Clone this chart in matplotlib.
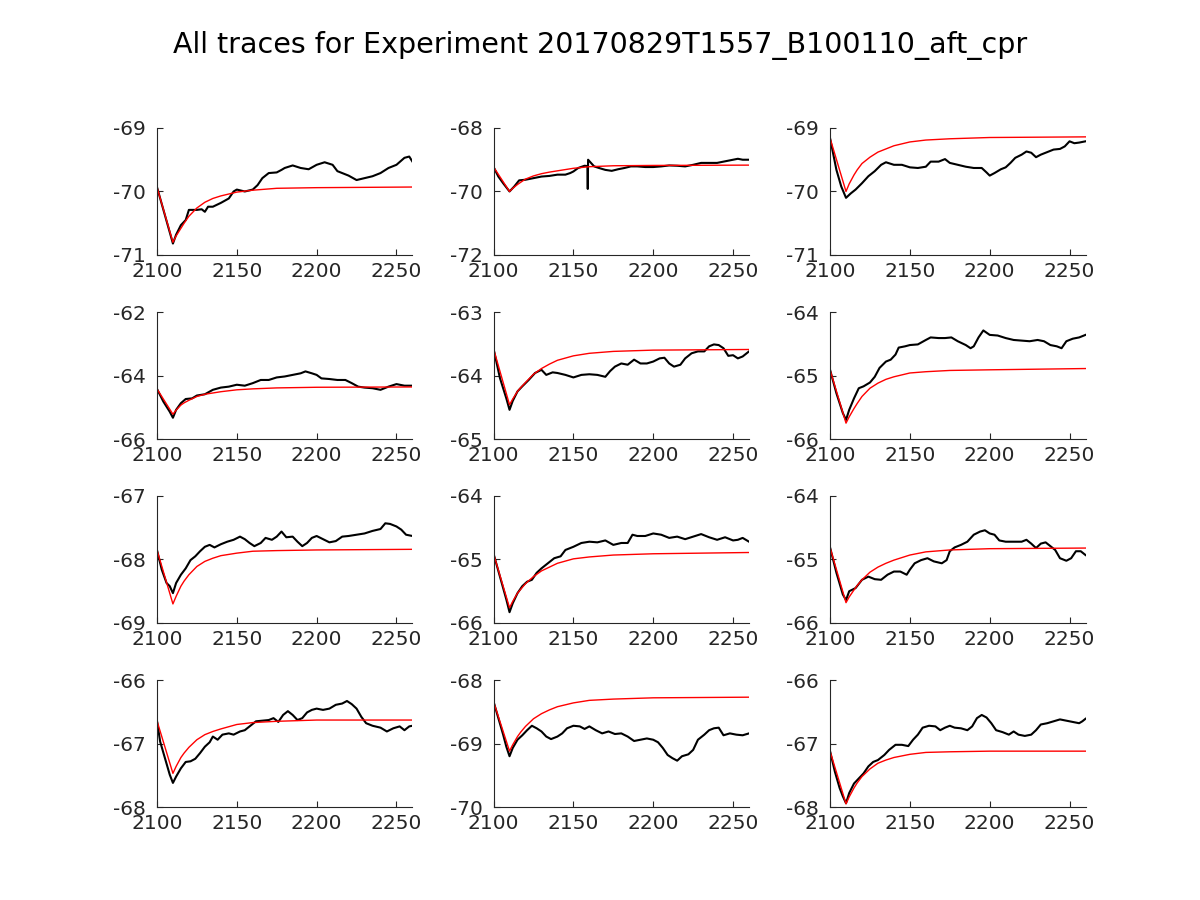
import matplotlib
matplotlib.use("Agg")
import matplotlib.pyplot as plt

TITLE = "All traces for Experiment 20170829T1557_B100110_aft_cpr"
XLIM = (2100, 2260)
XTICKS = [2100, 2150, 2200, 2250]

# y-limits for each panel (row-major)
YLIMS = [(-71, -69), (-72, -68), (-71, -69),
         (-66, -62), (-65, -63), (-66, -64),
         (-69, -67), (-66, -64), (-66, -64),
         (-68, -66), (-70, -68), (-68, -66)]

# common time grid of the fitted (red) curves
RED_T = [2100, 2110, 2112, 2115, 2117, 2120, 2125, 2130, 2135, 2140, 2150, 2160, 2175, 2200, 2260]

red1 = [-69.93, -70.80, -70.70, -70.58, -70.50, -70.39, -70.26, -70.17, -70.11, -70.07, -70.01, -69.98, -69.95, -69.94, -69.93]
red2 = [-69.23, -70.00, -69.90, -69.78, -69.71, -69.61, -69.51, -69.44, -69.39, -69.35, -69.27, -69.22, -69.19, -69.18, -69.17]
red3 = [-69.16, -70.00, -69.88, -69.74, -69.66, -69.56, -69.46, -69.38, -69.33, -69.28, -69.22, -69.19, -69.17, -69.15, -69.14]
red4 = [-64.42, -65.22, -65.09, -64.93, -64.86, -64.78, -64.66, -64.59, -64.55, -64.51, -64.45, -64.42, -64.39, -64.37, -64.36]
red5 = [-63.58, -64.46, -64.37, -64.25, -64.19, -64.11, -63.98, -63.89, -63.82, -63.76, -63.69, -63.65, -63.62, -63.60, -63.59]
red6 = [-64.91, -65.75, -65.65, -65.52, -65.44, -65.33, -65.20, -65.12, -65.06, -65.02, -64.96, -64.94, -64.92, -64.91, -64.89]
red7 = [-67.85, -68.70, -68.58, -68.42, -68.34, -68.24, -68.11, -68.03, -67.98, -67.94, -67.90, -67.87, -67.86, -67.85, -67.84]
red8 = [-64.91, -65.76, -65.66, -65.53, -65.47, -65.38, -65.27, -65.18, -65.12, -65.06, -64.99, -64.96, -64.93, -64.91, -64.89]
red9 = [-64.81, -65.68, -65.59, -65.48, -65.41, -65.32, -65.20, -65.12, -65.06, -65.01, -64.93, -64.88, -64.85, -64.83, -64.82]
red10 = [-66.64, -67.47, -67.36, -67.22, -67.15, -67.06, -66.94, -66.86, -66.81, -66.77, -66.70, -66.67, -66.65, -66.63, -66.63]
red11 = [-68.34, -69.12, -69.02, -68.89, -68.82, -68.73, -68.61, -68.53, -68.47, -68.42, -68.36, -68.32, -68.30, -68.28, -68.27]
red12 = [-67.12, -67.95, -67.84, -67.70, -67.62, -67.52, -67.40, -67.31, -67.26, -67.22, -67.17, -67.14, -67.13, -67.12, -67.12]

# measured traces (black)
t1 = [2100, 2110, 2112, 2115, 2118, 2120, 2125, 2128, 2130, 2132, 2135, 2140, 2145, 2148, 2150, 2155, 2160,
      2163, 2166, 2170, 2175, 2178, 2180, 2185, 2190, 2195, 2200, 2205, 2210, 2213, 2216, 2220, 2225, 2230,
      2235, 2240, 2245, 2250, 2255, 2258, 2260]
v1 = [-69.93, -70.82, -70.68, -70.53, -70.45, -70.29, -70.29, -70.28, -70.32, -70.24, -70.24, -70.18, -70.11,
      -70.00, -69.97, -70.00, -69.97, -69.90, -69.79, -69.71, -69.70, -69.66, -69.63, -69.59, -69.63, -69.65,
      -69.58, -69.54, -69.58, -69.68, -69.71, -69.75, -69.82, -69.79, -69.76, -69.71, -69.63, -69.58, -69.47,
      -69.45, -69.53]

t2 = [2100, 2103, 2106, 2110, 2113, 2116, 2120, 2125, 2130, 2135, 2140, 2145, 2148, 2150, 2153, 2157, 2158.8,
      2159.0, 2159.2, 2161, 2163, 2166, 2170, 2174, 2178, 2182, 2186, 2190, 2195, 2200, 2205, 2210, 2215, 2220,
      2225, 2230, 2235, 2240, 2245, 2250, 2253, 2256, 2260]
v2 = [-69.23, -69.53, -69.74, -70.00, -69.84, -69.65, -69.63, -69.58, -69.53, -69.51, -69.47, -69.47, -69.42,
      -69.37, -69.26, -69.19, -69.20, -69.92, -69.00, -69.10, -69.21, -69.26, -69.32, -69.35, -69.30, -69.26,
      -69.21, -69.21, -69.23, -69.23, -69.21, -69.18, -69.19, -69.21, -69.16, -69.10, -69.10, -69.10, -69.05,
      -69.00, -68.97, -69.00, -69.00]

t3 = [2100, 2104, 2107, 2110, 2113, 2116, 2120, 2124, 2128, 2132, 2135, 2140, 2145, 2150, 2155, 2160, 2163,
      2168, 2172, 2175, 2180, 2185, 2190, 2195, 2198, 2200, 2203, 2207, 2210, 2213, 2216, 2220, 2223, 2226,
      2229, 2232, 2236, 2240, 2244, 2247, 2250, 2253, 2256, 2260]
v3 = [-69.16, -69.66, -69.92, -70.10, -70.03, -69.97, -69.87, -69.76, -69.68, -69.58, -69.54, -69.58, -69.58,
      -69.62, -69.63, -69.61, -69.53, -69.53, -69.49, -69.55, -69.58, -69.61, -69.63, -69.63, -69.70, -69.75,
      -69.71, -69.65, -69.62, -69.55, -69.47, -69.42, -69.37, -69.39, -69.46, -69.42, -69.38, -69.34, -69.33,
      -69.29, -69.21, -69.24, -69.23, -69.21]

t4 = [2100, 2104, 2108, 2110, 2112, 2115, 2118, 2122, 2125, 2130, 2135, 2140, 2145, 2150, 2155, 2160, 2165,
      2170, 2175, 2180, 2185, 2190, 2193, 2197, 2200, 2203, 2208, 2213, 2218, 2222, 2226, 2230, 2235, 2240,
      2245, 2250, 2255, 2260]
v4 = [-64.42, -64.82, -65.14, -65.33, -65.08, -64.87, -64.74, -64.72, -64.63, -64.59, -64.45, -64.38, -64.35,
      -64.29, -64.32, -64.24, -64.14, -64.14, -64.06, -64.03, -63.98, -63.93, -63.87, -63.93, -63.98, -64.09,
      -64.11, -64.14, -64.14, -64.24, -64.35, -64.38, -64.40, -64.45, -64.35, -64.27, -64.32, -64.32]

t5 = [2100, 2104, 2108, 2110, 2112, 2115, 2118, 2122, 2126, 2130, 2133, 2137, 2140, 2145, 2150, 2155, 2160,
      2165, 2170, 2173, 2176, 2180, 2184, 2188, 2192, 2196, 2200, 2204, 2207, 2210, 2213, 2217, 2220, 2224,
      2228, 2232, 2235, 2238, 2241, 2244, 2247, 2250, 2253, 2256, 2260]
v5 = [-63.58, -64.04, -64.36, -64.54, -64.40, -64.25, -64.17, -64.07, -63.96, -63.91, -63.99, -63.95, -63.96,
      -63.99, -64.03, -63.99, -63.98, -63.99, -64.02, -63.93, -63.86, -63.81, -63.83, -63.75, -63.81, -63.81,
      -63.78, -63.73, -63.72, -63.81, -63.86, -63.83, -63.73, -63.65, -63.62, -63.62, -63.54, -63.51, -63.52,
      -63.57, -63.69, -63.68, -63.73, -63.70, -63.62]

t6 = [2100, 2104, 2108, 2110, 2112, 2115, 2118, 2121, 2125, 2128, 2131, 2135, 2138, 2141, 2143, 2147, 2150,
      2155, 2160, 2163, 2168, 2172, 2176, 2180, 2185, 2188, 2190, 2193, 2196, 2200, 2205, 2210, 2215, 2220,
      2225, 2230, 2234, 2238, 2242, 2245, 2248, 2252, 2256, 2260]
v6 = [-64.91, -65.28, -65.59, -65.70, -65.54, -65.36, -65.20, -65.17, -65.11, -65.02, -64.88, -64.78, -64.75,
      -64.67, -64.56, -64.54, -64.52, -64.51, -64.44, -64.40, -64.41, -64.41, -64.40, -64.46, -64.52, -64.57,
      -64.54, -64.40, -64.29, -64.36, -64.37, -64.41, -64.44, -64.45, -64.46, -64.44, -64.46, -64.52, -64.54,
      -64.57, -64.46, -64.42, -64.40, -64.36]

t7 = [2100, 2103, 2106, 2108, 2110, 2112, 2115, 2118, 2121, 2124, 2127, 2130, 2133, 2136, 2140, 2144, 2148,
      2152, 2155, 2158, 2161, 2165, 2168, 2172, 2175, 2178, 2181, 2185, 2188, 2191, 2194, 2197, 2200, 2204,
      2208, 2212, 2216, 2220, 2225, 2230, 2235, 2240, 2243, 2246, 2250, 2253, 2256, 2260]
v7 = [-67.85, -68.16, -68.37, -68.42, -68.53, -68.37, -68.24, -68.14, -68.01, -67.95, -67.87, -67.80, -67.77,
      -67.81, -67.76, -67.72, -67.69, -67.64, -67.68, -67.74, -67.79, -67.74, -67.66, -67.69, -67.64, -67.56,
      -67.65, -67.64, -67.72, -67.79, -67.74, -67.66, -67.63, -67.68, -67.73, -67.71, -67.64, -67.63, -67.61,
      -67.59, -67.55, -67.52, -67.43, -67.44, -67.48, -67.53, -67.61, -67.63]

t8 = [2100, 2104, 2108, 2110, 2112, 2115, 2118, 2121, 2124, 2127, 2130, 2134, 2138, 2142, 2145, 2150, 2155,
      2160, 2165, 2170, 2175, 2180, 2184, 2187, 2190, 2195, 2200, 2205, 2210, 2215, 2220, 2225, 2230, 2235,
      2240, 2245, 2250, 2253, 2256, 2260]
v8 = [-64.91, -65.27, -65.63, -65.83, -65.69, -65.53, -65.42, -65.35, -65.32, -65.21, -65.14, -65.06, -64.98,
      -64.95, -64.85, -64.80, -64.74, -64.72, -64.73, -64.70, -64.77, -64.74, -64.74, -64.61, -64.63, -64.63,
      -64.59, -64.61, -64.66, -64.64, -64.68, -64.64, -64.60, -64.65, -64.69, -64.65, -64.70, -64.69, -64.66,
      -64.72]

t9 = [2100, 2104, 2108, 2110, 2112, 2116, 2120, 2124, 2128, 2132, 2136, 2140, 2144, 2148, 2150, 2153, 2157,
      2161, 2165, 2170, 2173, 2175, 2178, 2182, 2186, 2190, 2194, 2197, 2200, 2203, 2206, 2210, 2215, 2220,
      2223, 2226, 2229, 2232, 2235, 2238, 2241, 2244, 2248, 2251, 2254, 2257, 2260]
v9 = [-64.81, -65.21, -65.55, -65.64, -65.50, -65.45, -65.32, -65.27, -65.31, -65.32, -65.24, -65.19, -65.19,
      -65.24, -65.16, -65.06, -65.01, -64.98, -65.03, -65.06, -65.01, -64.87, -64.81, -64.77, -64.72, -64.61,
      -64.56, -64.54, -64.59, -64.61, -64.70, -64.72, -64.72, -64.72, -64.69, -64.75, -64.82, -64.75, -64.73,
      -64.79, -64.85, -64.98, -65.02, -64.98, -64.87, -64.87, -64.93]

t10 = [2100, 2102, 2105, 2108, 2110, 2112, 2115, 2118, 2121, 2124, 2127, 2130, 2133, 2135, 2138, 2141, 2145,
       2148, 2152, 2155, 2158, 2162, 2166, 2170, 2173, 2176, 2179, 2182, 2185, 2188, 2191, 2194, 2197, 2200,
       2204, 2208, 2212, 2216, 2219, 2222, 2225, 2228, 2231, 2235, 2240, 2244, 2248, 2252, 2255, 2258, 2260]
v10 = [-66.64, -66.97, -67.23, -67.49, -67.62, -67.52, -67.39, -67.29, -67.28, -67.24, -67.15, -67.05, -66.98,
       -66.89, -66.94, -66.86, -66.84, -66.86, -66.81, -66.79, -66.73, -66.65, -66.64, -66.63, -66.60, -66.66,
       -66.55, -66.49, -66.55, -66.63, -66.60, -66.51, -66.47, -66.45, -66.47, -66.45, -66.39, -66.37, -66.33,
       -66.38, -66.45, -66.58, -66.68, -66.72, -66.75, -66.81, -66.76, -66.73, -66.79, -66.73, -66.72]

t11 = [2100, 2103, 2106, 2108, 2110, 2112, 2115, 2118, 2121, 2124, 2127, 2130, 2133, 2136, 2140, 2143, 2146,
       2150, 2154, 2157, 2160, 2164, 2168, 2172, 2176, 2180, 2184, 2188, 2192, 2196, 2200, 2203, 2206, 2209,
       2212, 2215, 2218, 2222, 2225, 2228, 2232, 2235, 2238, 2241, 2244, 2248, 2252, 2256, 2260]
v11 = [-68.34, -68.60, -68.86, -69.05, -69.20, -69.07, -68.94, -68.87, -68.79, -68.72, -68.76, -68.81, -68.89,
       -68.93, -68.89, -68.84, -68.76, -68.72, -68.73, -68.77, -68.73, -68.79, -68.84, -68.81, -68.85, -68.84,
       -68.89, -68.96, -68.94, -68.92, -68.94, -68.98, -69.07, -69.18, -69.23, -69.27, -69.20, -69.17, -69.10,
       -68.94, -68.86, -68.79, -68.76, -68.75, -68.87, -68.84, -68.86, -68.87, -68.84]

t12 = [2100, 2103, 2106, 2108, 2110, 2112, 2115, 2118, 2121, 2124, 2127, 2130, 2134, 2137, 2141, 2145, 2149,
       2152, 2155, 2158, 2162, 2166, 2169, 2172, 2175, 2178, 2182, 2186, 2189, 2192, 2195, 2198, 2201, 2204,
       2208, 2212, 2215, 2218, 2222, 2226, 2229, 2232, 2236, 2240, 2244, 2248, 2252, 2256, 2258, 2260]
v12 = [-67.12, -67.44, -67.70, -67.83, -67.94, -67.78, -67.63, -67.55, -67.47, -67.36, -67.29, -67.26, -67.18,
       -67.10, -67.02, -67.02, -67.04, -66.94, -66.86, -66.75, -66.72, -66.73, -66.79, -66.75, -66.72, -66.75,
       -66.76, -66.79, -66.73, -66.60, -66.55, -66.59, -66.68, -66.79, -66.82, -66.86, -66.81, -66.86, -66.88,
       -66.86, -66.79, -66.70, -66.68, -66.65, -66.62, -66.64, -66.66, -66.68, -66.65, -66.61]

TRACES = [(t1, v1), (t2, v2), (t3, v3), (t4, v4), (t5, v5), (t6, v6),
          (t7, v7), (t8, v8), (t9, v9), (t10, v10), (t11, v11), (t12, v12)]
FITS = [red1, red2, red3, red4, red5, red6, red7, red8, red9, red10, red11, red12]

# layout (figure fractions)
LEFTS = [0.1308, 0.4113, 0.6917]
BOTTOMS = [0.7167, 0.5122, 0.3078, 0.1033]
W, H = 0.2129, 0.1411
AXC = "#262626"

fig = plt.figure(figsize=(12, 9), dpi=100)
fig.patch.set_facecolor("white")
for i in range(12):
    r, c = divmod(i, 3)
    ax = fig.add_axes([LEFTS[c], BOTTOMS[r], W, H])
    t, v = TRACES[i]
    ax.plot(t, v, color="black", lw=1.5)
    ax.plot(RED_T, FITS[i], color="red", lw=1.0)
    ylo, yhi = YLIMS[i]
    ax.set_xlim(*XLIM)
    ax.set_ylim(ylo, yhi)
    ax.set_xticks(XTICKS)
    yt = [ylo, (ylo + yhi) / 2, yhi]
    ax.set_yticks(yt)
    ax.set_yticklabels([f"{int(round(y))}" for y in yt])
    for s in ("top", "right"):
        ax.spines[s].set_visible(False)
    for s in ("left", "bottom"):
        ax.spines[s].set_color(AXC)
        ax.spines[s].set_linewidth(0.8)
    ax.tick_params(direction="in", length=4, width=0.8, colors=AXC, labelsize=14.5)
    ax.tick_params(axis="y", pad=8)
    ax.tick_params(axis="x", pad=5)

fig.text(0.5, 0.949, TITLE, ha="center", va="center", fontsize=20.5, color="black")
fig.savefig("out.png", dpi=100)
